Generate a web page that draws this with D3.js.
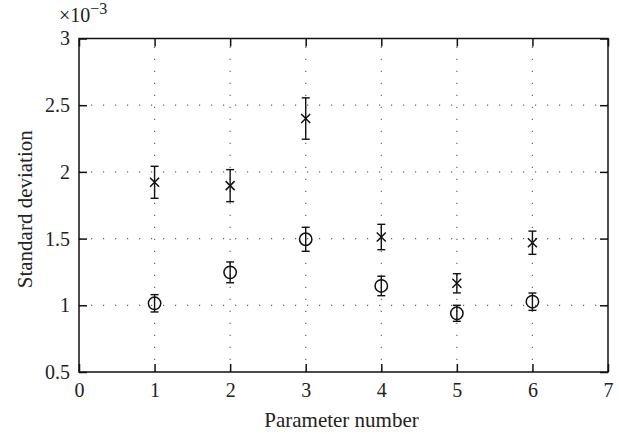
<!DOCTYPE html>
<html>
<head>
<meta charset="utf-8">
<script src="https://cdn.jsdelivr.net/npm/d3@7"></script>
<style>
  body { margin: 0; background: #fff; }
  svg { display: block; font-family: "Liberation Serif", "DejaVu Serif", serif; }
  .grid line { stroke: #666; stroke-width: 1.2; stroke-dasharray: 1.2,10.8; }
  .tick-text { font-size: 20px; fill: #222; }
  .label { font-size: 21px; fill: #222; }
</style>
</head>
<body>
<div id="graph"></div>
<script>
// values in units of 1e-3
var params = [1, 2, 3, 4, 5, 6];
var crossMean = [1.922, 1.897, 2.400, 1.512, 1.165, 1.469];
var crossErr = [0.120, 0.120, 0.155, 0.095, 0.072, 0.087];
var circleMean = [1.015, 1.247, 1.495, 1.145, 0.940, 1.027];
var circleErr = [0.065, 0.078, 0.090, 0.073, 0.060, 0.065];
var xTicks = [0, 1, 2, 3, 4, 5, 6, 7];
var yTicks = [0.5, 1, 1.5, 2, 2.5, 3];

var width = 619, height = 434;
var pLeft = 79, pRight = 608, pTop = 38.5, pBottom = 372;

var x = d3.scaleLinear().domain([0, 7]).range([pLeft, pRight]);
var y = d3.scaleLinear().domain([0.5, 3]).range([pBottom, pTop]);

var svg = d3.select("div#graph")
    .append("svg")
    .attr("width", width)
    .attr("height", height)

// dotted grid
var grid = svg.append("g").attr("class", "grid");
grid.selectAll("line.gx")
    .data(xTicks.slice(1, -1))
    .enter().append("line")
    .attr("x1", d => x(d)).attr("x2", d => x(d))
    .attr("y1", pBottom).attr("y2", pTop);
grid.selectAll("line.gy")
    .data(yTicks.slice(1, -1))
    .enter().append("line")
    .attr("y1", d => y(d)).attr("y2", d => y(d))
    .attr("x1", pLeft).attr("x2", pRight);

// axes with inward ticks, mirrored on top/right
var tickLen = 8;
var xAxis = d3.axisBottom(x).tickValues(xTicks).tickSize(-tickLen).tickPadding(11).tickFormat(d3.format("d"));
var yAxis = d3.axisLeft(y).tickValues(yTicks).tickSize(-tickLen).tickPadding(9).tickFormat(d => d);
var xTop = d3.axisTop(x).tickValues(xTicks).tickSize(-tickLen).tickFormat("");
var yRight = d3.axisRight(y).tickValues(yTicks).tickSize(-tickLen).tickFormat("");

function styleAxis(g) {
    g.attr("font-family", null).attr("font-size", null);
    g.select(".domain").remove();
    g.selectAll(".tick line").attr("stroke", "#111").attr("stroke-width", 1.5);
    g.selectAll(".tick text").attr("class", "tick-text");
}

svg.append("g").attr("transform", "translate(0," + pBottom + ")").call(xAxis).call(styleAxis);
svg.append("g").attr("transform", "translate(" + pLeft + ",0)").call(yAxis).call(styleAxis);
svg.append("g").attr("transform", "translate(0," + pTop + ")").call(xTop).call(styleAxis);
svg.append("g").attr("transform", "translate(" + pRight + ",0)").call(yRight).call(styleAxis);

// frame
svg.append("rect")
    .attr("x", pLeft).attr("y", pTop)
    .attr("width", pRight - pLeft).attr("height", pBottom - pTop)
    .attr("fill", "none").attr("stroke", "#111").attr("stroke-width", 1.5);

// error bars
function errorBars(cls, mean, err) {
    var cap = 4;
    var g = svg.append("g").attr("class", cls)
        .attr("stroke", "#111").attr("stroke-width", 1.4).attr("fill", "none");
    var e = g.selectAll("g").data(params).enter().append("g");
    e.append("line")
        .attr("x1", d => x(d)).attr("x2", d => x(d))
        .attr("y1", (d, i) => y(mean[i] - err[i]))
        .attr("y2", (d, i) => y(mean[i] + err[i]));
    e.append("line")
        .attr("x1", d => x(d) - cap).attr("x2", d => x(d) + cap)
        .attr("y1", (d, i) => y(mean[i] + err[i]))
        .attr("y2", (d, i) => y(mean[i] + err[i]));
    e.append("line")
        .attr("x1", d => x(d) - cap).attr("x2", d => x(d) + cap)
        .attr("y1", (d, i) => y(mean[i] - err[i]))
        .attr("y2", (d, i) => y(mean[i] - err[i]));
}
errorBars("err-cross", crossMean, crossErr);
errorBars("err-circle", circleMean, circleErr);

// markers
svg.selectAll("circle.mark")
    .data(params)
    .enter().append("circle")
    .attr("class", "mark")
    .attr("cx", d => x(d))
    .attr("cy", (d, i) => y(circleMean[i]))
    .attr("r", 6.2)
    .attr("fill", "none").attr("stroke", "#111").attr("stroke-width", 1.5);

svg.selectAll("path.cross")
    .data(params)
    .enter().append("path")
    .attr("class", "cross")
    .attr("d", function(d, i) {
        var cx = x(d), cy = y(crossMean[i]), s = 4.5;
        return "M" + (cx - s) + "," + (cy - s) + "L" + (cx + s) + "," + (cy + s) +
            "M" + (cx - s) + "," + (cy + s) + "L" + (cx + s) + "," + (cy - s);
    })
    .attr("stroke", "#111").attr("stroke-width", 1.5);

// labels
svg.append("text").attr("class", "label")
    .attr("x", (pLeft + pRight) / 2 - 2).attr("y", 427)
    .attr("text-anchor", "middle")
    .text("Parameter number");

svg.append("text").attr("class", "label")
    .attr("transform", "translate(32," + ((pTop + pBottom) / 2 + 4) + ") rotate(-90)")
    .attr("text-anchor", "middle")
    .text("Standard deviation");

var mult = svg.append("text").attr("class", "tick-text").attr("x", 59).attr("y", 22);
mult.append("tspan").text("\u00d710");
mult.append("tspan").attr("dy", -8).attr("font-size", 16).text("\u22123");
</script>
</body>
</html>
